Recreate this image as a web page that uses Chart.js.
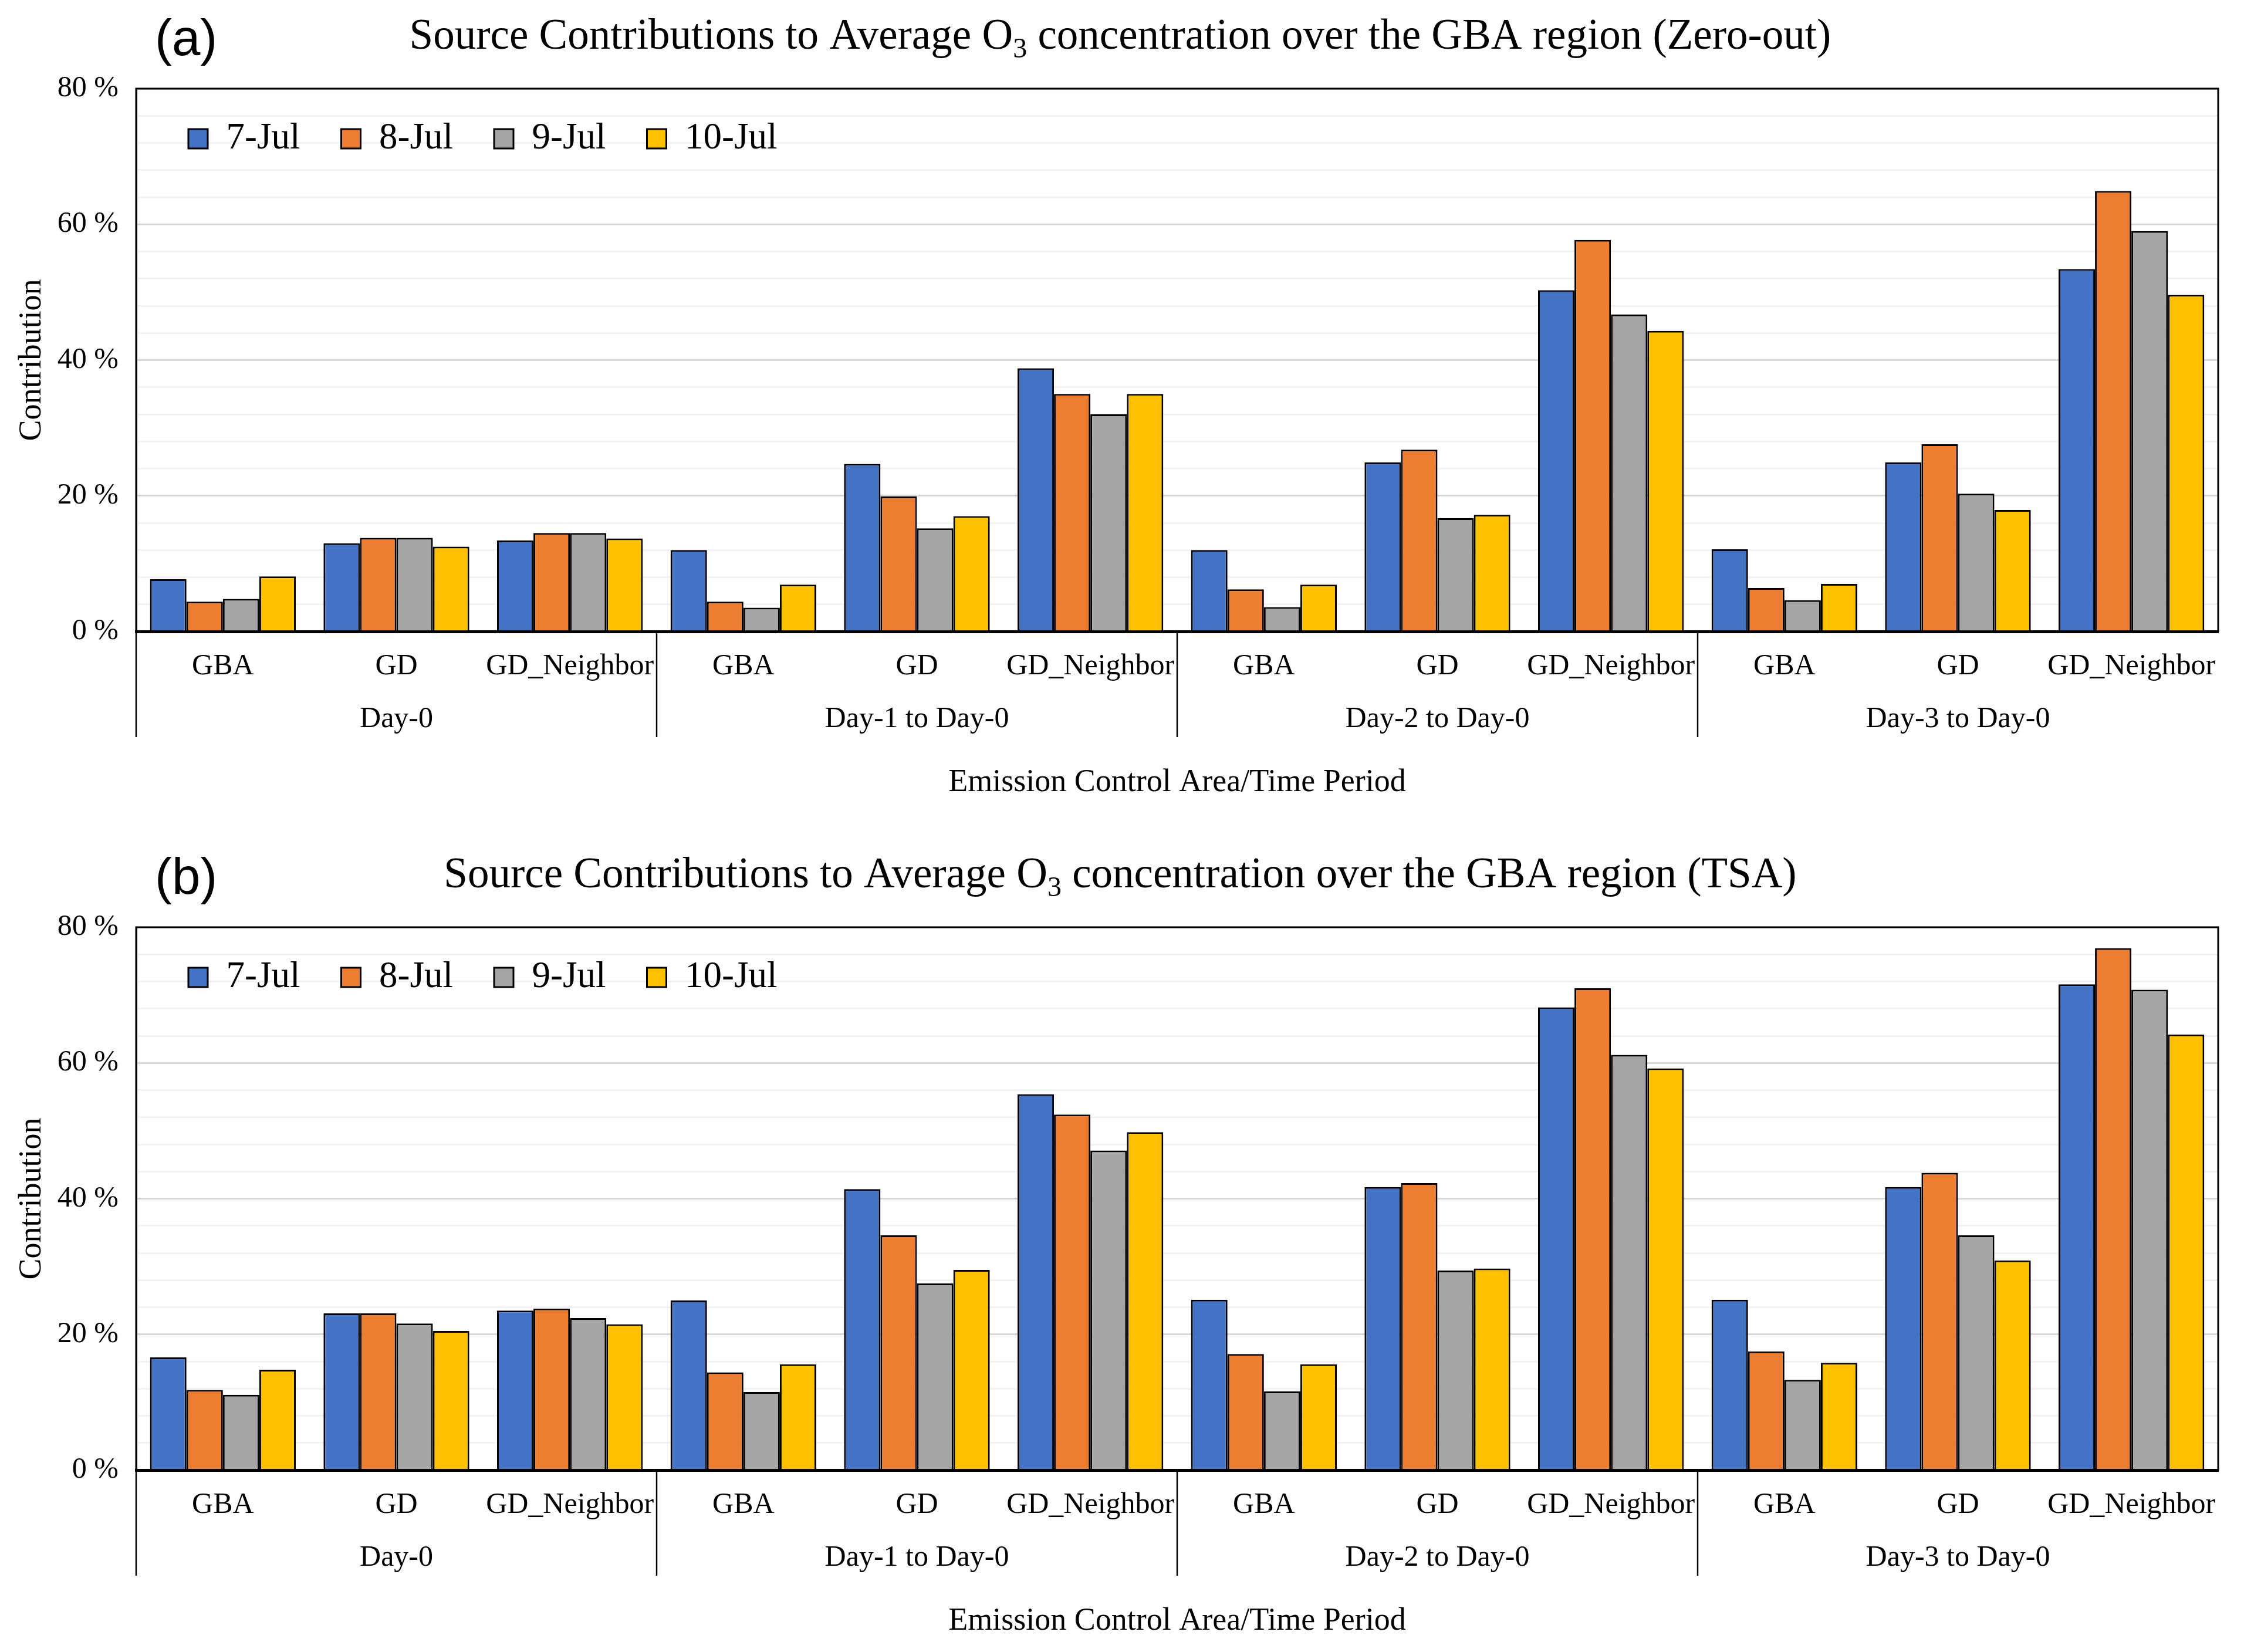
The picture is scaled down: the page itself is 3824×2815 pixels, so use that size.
<!DOCTYPE html>
<html>
<head>
<meta charset="utf-8">
<script src="https://cdn.jsdelivr.net/npm/chart.js@4.4.1/dist/chart.umd.min.js"></script>
<style>
  html, body { margin: 0; padding: 0; background: #fff; overflow: hidden; }
  .panel { position: absolute; left: 0; width: 3824px; height: 1400px; }
</style>
</head>
<body>
<div class="panel" style="top:0"><canvas id="chart-a"></canvas></div>
<div class="panel" style="top:1429px"><canvas id="chart-b"></canvas></div>
<script>
// categories: emission area inside each time period
const areas = ['GBA', 'GD', 'GD_Neighbor'];
const periods = ['Day-0', 'Day-1 to Day-0', 'Day-2 to Day-0', 'Day-3 to Day-0'];
const dates = ['7-Jul', '8-Jul', '9-Jul', '10-Jul'];
const yMajor = [0, 20, 40, 60, 80];

// (a) zero-out contributions, % (period by period: GBA, GD, GD_Neighbor)
const zeroOut7 = [7.7, 13.0, 13.4, 12.0, 24.7, 38.8, 12.0, 24.9, 50.3, 12.1, 24.9, 53.4];
const zeroOut8 = [4.4, 13.8, 14.5, 4.4, 19.9, 35.0, 6.2, 26.8, 57.7, 6.4, 27.6, 64.9];
const zeroOut9 = [4.8, 13.8, 14.5, 3.5, 15.2, 32.0, 3.6, 16.7, 46.7, 4.6, 20.3, 59.0];
const zeroOut10 = [8.1, 12.5, 13.7, 6.9, 17.0, 35.0, 6.9, 17.2, 44.3, 7.0, 17.9, 49.6];

// (b) TSA contributions, %
const tsa7 = [16.6, 23.1, 23.5, 25.0, 41.4, 55.4, 25.1, 41.7, 68.2, 25.1, 41.7, 71.6];
const tsa8 = [11.8, 23.1, 23.8, 14.4, 34.6, 52.4, 17.1, 42.3, 71.0, 17.5, 43.8, 76.9];
const tsa9 = [11.1, 21.6, 22.4, 11.5, 27.5, 47.1, 11.6, 29.4, 61.2, 13.3, 34.6, 70.8];
const tsa10 = [14.8, 20.5, 21.5, 15.6, 29.5, 49.8, 15.6, 29.7, 59.2, 15.8, 30.9, 64.2];

const colors = ['#4472C4', '#ED7D31', '#A5A5A5', '#FFC000'];
const serif = '"Liberation Serif", "Times New Roman", serif';
const labels = periods.flatMap(() => areas);

// box around plot, group labels under the axis, panel titles
const framePlugin = {
    id: 'frame',
    beforeUpdate(chart) {
        // legend inside the plot but laid out in one row
        if (chart.legend) chart.legend.isHorizontal = function () { return true; };
    },
    afterLayout(chart) {
        const lg = chart.legend, ca = chart.chartArea;
        lg.left = ca.left + 19;
        lg.top = ca.top - 16;
    },
    afterDraw(chart, args, opts) {
        const {ctx, chartArea: ca} = chart;
        const x = chart.scales.x;
        ctx.save();
        ctx.strokeStyle = '#000';
        ctx.lineWidth = 3;
        ctx.strokeRect(ca.left, ca.top, ca.right - ca.left, ca.bottom - ca.top);

        ctx.lineWidth = 2.5;
        ctx.fillStyle = '#000';
        ctx.font = '50px ' + serif;
        ctx.textAlign = 'center';
        ctx.textBaseline = 'middle';
        periods.forEach(function (p, g) {
            const first = g * areas.length;
            const last = first + areas.length - 1;
            const edge = g === 0 ? ca.left : (x.getPixelForValue(first - 1) + x.getPixelForValue(first)) / 2;
            ctx.beginPath();
            ctx.moveTo(edge, ca.bottom);
            ctx.lineTo(edge, ca.bottom + 180);
            ctx.stroke();
            const mid = (x.getPixelForValue(first) + x.getPixelForValue(last)) / 2;
            ctx.fillText(p, mid, ca.bottom + 150);
        });

        // panel tag
        ctx.textAlign = 'left';
        ctx.font = '87px "Liberation Sans", Arial, sans-serif';
        ctx.fillText(opts.tag, 264, 70);

        // title with subscript
        const a = 'Source Contributions to Average O';
        const s = '3';
        const b = ' concentration over the GBA region (' + opts.method + ')';
        ctx.textBaseline = 'alphabetic';
        ctx.font = '73px ' + serif;
        const wa = ctx.measureText(a).width;
        const wb = ctx.measureText(b).width;
        ctx.font = '48px ' + serif;
        const ws = ctx.measureText(s).width;
        const x0 = 1909 - (wa + ws + wb) / 2;
        const base = 83;
        ctx.font = '73px ' + serif;
        ctx.fillText(a, x0, base);
        ctx.fillText(b, x0 + wa + ws, base);
        ctx.font = '48px ' + serif;
        ctx.fillText(s, x0 + wa, base + 15);
        ctx.restore();
    }
};

function makeChart(id, series, tag, method) {
    const canvas = document.getElementById(id);
    const ctx = canvas.getContext('2d');
    return new Chart(ctx, {
        type: 'bar',
        data: {
            labels: labels,
            datasets: dates.map(function (d, i) {
                return {
                    label: d,
                    data: series[i],
                    backgroundColor: colors[i],
                    borderColor: '#000',
                    borderWidth: 3,
                    categoryPercentage: 0.84,
                    barPercentage: 1.0
                };
            })
        },
        options: {
            responsive: true,
            maintainAspectRatio: false,
            devicePixelRatio: 1,
            animation: false,
            layout: { padding: { top: 151, right: 44, left: 0, bottom: 0 } },
            plugins: {
                legend: {
                    position: 'chartArea',
                    align: 'start',
                    labels: {
                        color: '#000',
                        font: { family: serif, size: 63 },
                        boxWidth: 33,
                        boxHeight: 33,
                        padding: 70
                    }
                },
                title: { display: false },
                tooltip: { enabled: false },
                frame: { tag: tag, method: method }
            },
            scales: {
                x: {
                    afterFit: function (scale) { scale.height = 324; },
                    grid: { display: false, drawTicks: false },
                    border: { color: '#000', width: 5 },
                    ticks: {
                        color: '#000',
                        font: { family: serif, size: 50 },
                        padding: 30,
                        autoSkip: false,
                        maxRotation: 0
                    },
                    title: {
                        display: true,
                        text: 'Emission Control Area/Time Period',
                        color: '#000',
                        font: { family: serif, size: 54 },
                        padding: { top: 0, bottom: 34 }
                    }
                },
                y: {
                    min: 0,
                    max: 80,
                    afterFit: function (scale) { scale.width = 232; },
                    ticks: {
                        stepSize: 4,
                        maxTicksLimit: 30,
                        autoSkip: false,
                        padding: 30,
                        color: '#000',
                        font: { family: serif, size: 50 },
                        callback: function (v) { return yMajor.includes(v) ? v + ' %' : ''; }
                    },
                    grid: {
                        drawTicks: false,
                        lineWidth: 3,
                        color: function (c) { return yMajor.includes(c.tick.value) ? '#d9d9d9' : '#f2f2f2'; }
                    },
                    border: { color: '#000', width: 3 },
                    title: {
                        display: true,
                        text: 'Contribution',
                        color: '#000',
                        font: { family: serif, size: 54 },
                        padding: { top: 22, bottom: 0 }
                    }
                }
            }
        },
        plugins: [framePlugin]
    });
}

makeChart('chart-a', [zeroOut7, zeroOut8, zeroOut9, zeroOut10], '(a)', 'Zero-out');
makeChart('chart-b', [tsa7, tsa8, tsa9, tsa10], '(b)', 'TSA');
</script>
</body>
</html>
